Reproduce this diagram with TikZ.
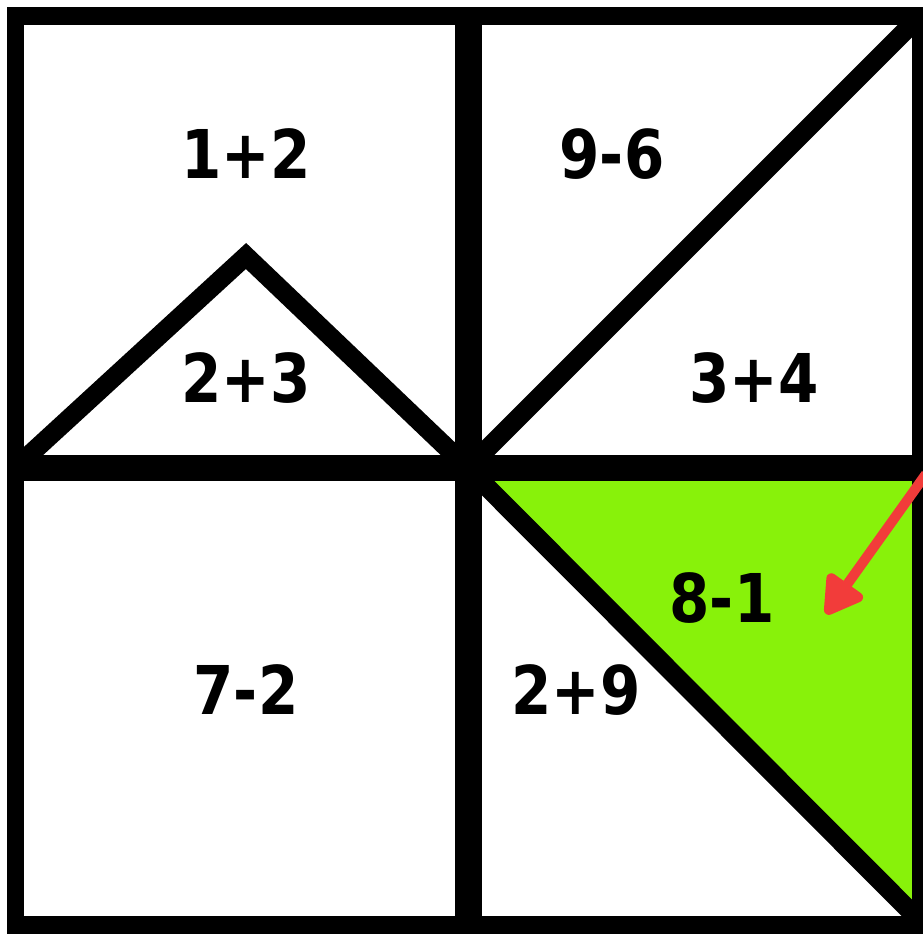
\documentclass[tikz,border=0pt]{standalone}
\usepackage{fontspec}
\setmainfont{DejaVu Sans}
\usetikzlibrary{arrows.meta}
\definecolor{CellGreen}{HTML}{88F20A}
\definecolor{ArrowRed}{HTML}{F23C3A}
\newcommand{\tallsum}[1]{\scalebox{1}[1.16]{#1}}

\begin{document}
\begin{tikzpicture}[
    x=0.02cm, y=-0.02cm,
    frame/.style={draw=black, line width=0.36cm, line join=miter},
    divider/.style={draw=black, line width=0.54cm},
    cut/.style={draw=black, line width=0.38cm, line join=miter},
    sum/.style={font=\fontsize{33}{38}\selectfont\bfseries, inner sep=0pt},
    pointer/.style={-{Triangle[length=0.85cm, width=0.95cm, round]}, line width=0.2cm, ArrowRed}
  ]
    \useasboundingbox (0,0) rectangle (922,935);
    % shaded half of the lower right cell
    \fill[CellGreen] (468,468) -- (920,468) -- (920,921) -- cycle;

    % cuts inside the cells
    \draw[cut] (15,468) -- (246,256) -- (468,468);
    \draw[cut] (468,468) -- (920,16);
    \draw[cut] (468,468) -- (920,921);

    % grid
    \draw[divider] (468,16) -- (468,924);
    \draw[divider] (15,468) -- (920,468);
    \draw[frame] (15.5,16) rectangle (920.5,925);

    \node[sum] (s12) at (246,154) {\tallsum{1+2}};
    \node[sum] (s96) at (612,154) {\tallsum{9-6}};
    \node[sum] (s23) at (246,378) {\tallsum{2+3}};
    \node[sum] (s34) at (754,378) {\tallsum{3+4}};
    \node[sum] (s81) at (722,598) {\tallsum{8-1}};
    \node[sum] (s72) at (246,690) {\tallsum{7-2}};
    \node[sum] (s29) at (576,690) {\tallsum{2+9}};

    \coordinate (tail) at (926,474);
    \coordinate (tip) at (826,614);
    \draw[pointer] (tail) -- (tip);
  \end{tikzpicture}
\end{document}
